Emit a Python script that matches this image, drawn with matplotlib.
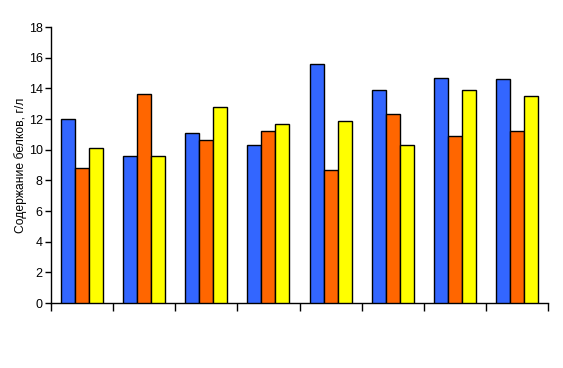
import matplotlib
matplotlib.use("Agg")
import matplotlib.pyplot as plt
import numpy as np

plt.rcParams['font.family'] = ['Liberation Sans', 'DejaVu Sans']

categories = ['1', '2', '3', '4', '5', '6', '7', '8']
series_blue = [12.0, 9.6, 11.1, 10.3, 15.6, 13.9, 14.7, 14.6]
series_orange = [8.8, 13.6, 10.6, 11.2, 8.7, 12.3, 10.9, 11.2]
series_yellow = [10.1, 9.6, 12.8, 11.7, 11.9, 10.3, 13.9, 13.5]
colors = ['#3366FF', '#FF6600', '#FFFF00']
y_ticks = [0, 2, 4, 6, 8, 10, 12, 14, 16, 18]
ylabel = 'Содержание белков, г/л'

fig = plt.figure(figsize=(5.63, 3.68), dpi=100)
W, H = 563, 368
ax = fig.add_axes([51 / W, 1 - 303 / H, (548 - 51) / W, (303 - 27) / H])

x = np.arange(len(categories)) + 0.5
bw = 0.225
for k, (vals, c) in enumerate(zip([series_blue, series_orange, series_yellow], colors)):
    ax.bar(x + (k - 1) * bw, vals, width=bw, color=c, edgecolor='black', linewidth=1.0, zorder=3)

ax.set_xlim(0, len(categories))
ax.set_ylim(0, 18)
ax.set_yticks(y_ticks)
ax.set_yticklabels([str(t) for t in y_ticks], fontsize=9)
ax.set_xticks(np.arange(len(categories) + 1))
ax.set_xticklabels([])
ax.tick_params(axis='x', direction='out', length=6, width=1, colors='black')
ax.tick_params(axis='y', direction='out', length=4, width=1, colors='black', pad=2)
ax.spines['top'].set_visible(False)
ax.spines['right'].set_visible(False)
ax.spines['left'].set_linewidth(1)
ax.spines['bottom'].set_linewidth(1)
ax.set_ylabel(ylabel, fontsize=8.7, labelpad=1.5)

fig.savefig('out.png', dpi=100)
